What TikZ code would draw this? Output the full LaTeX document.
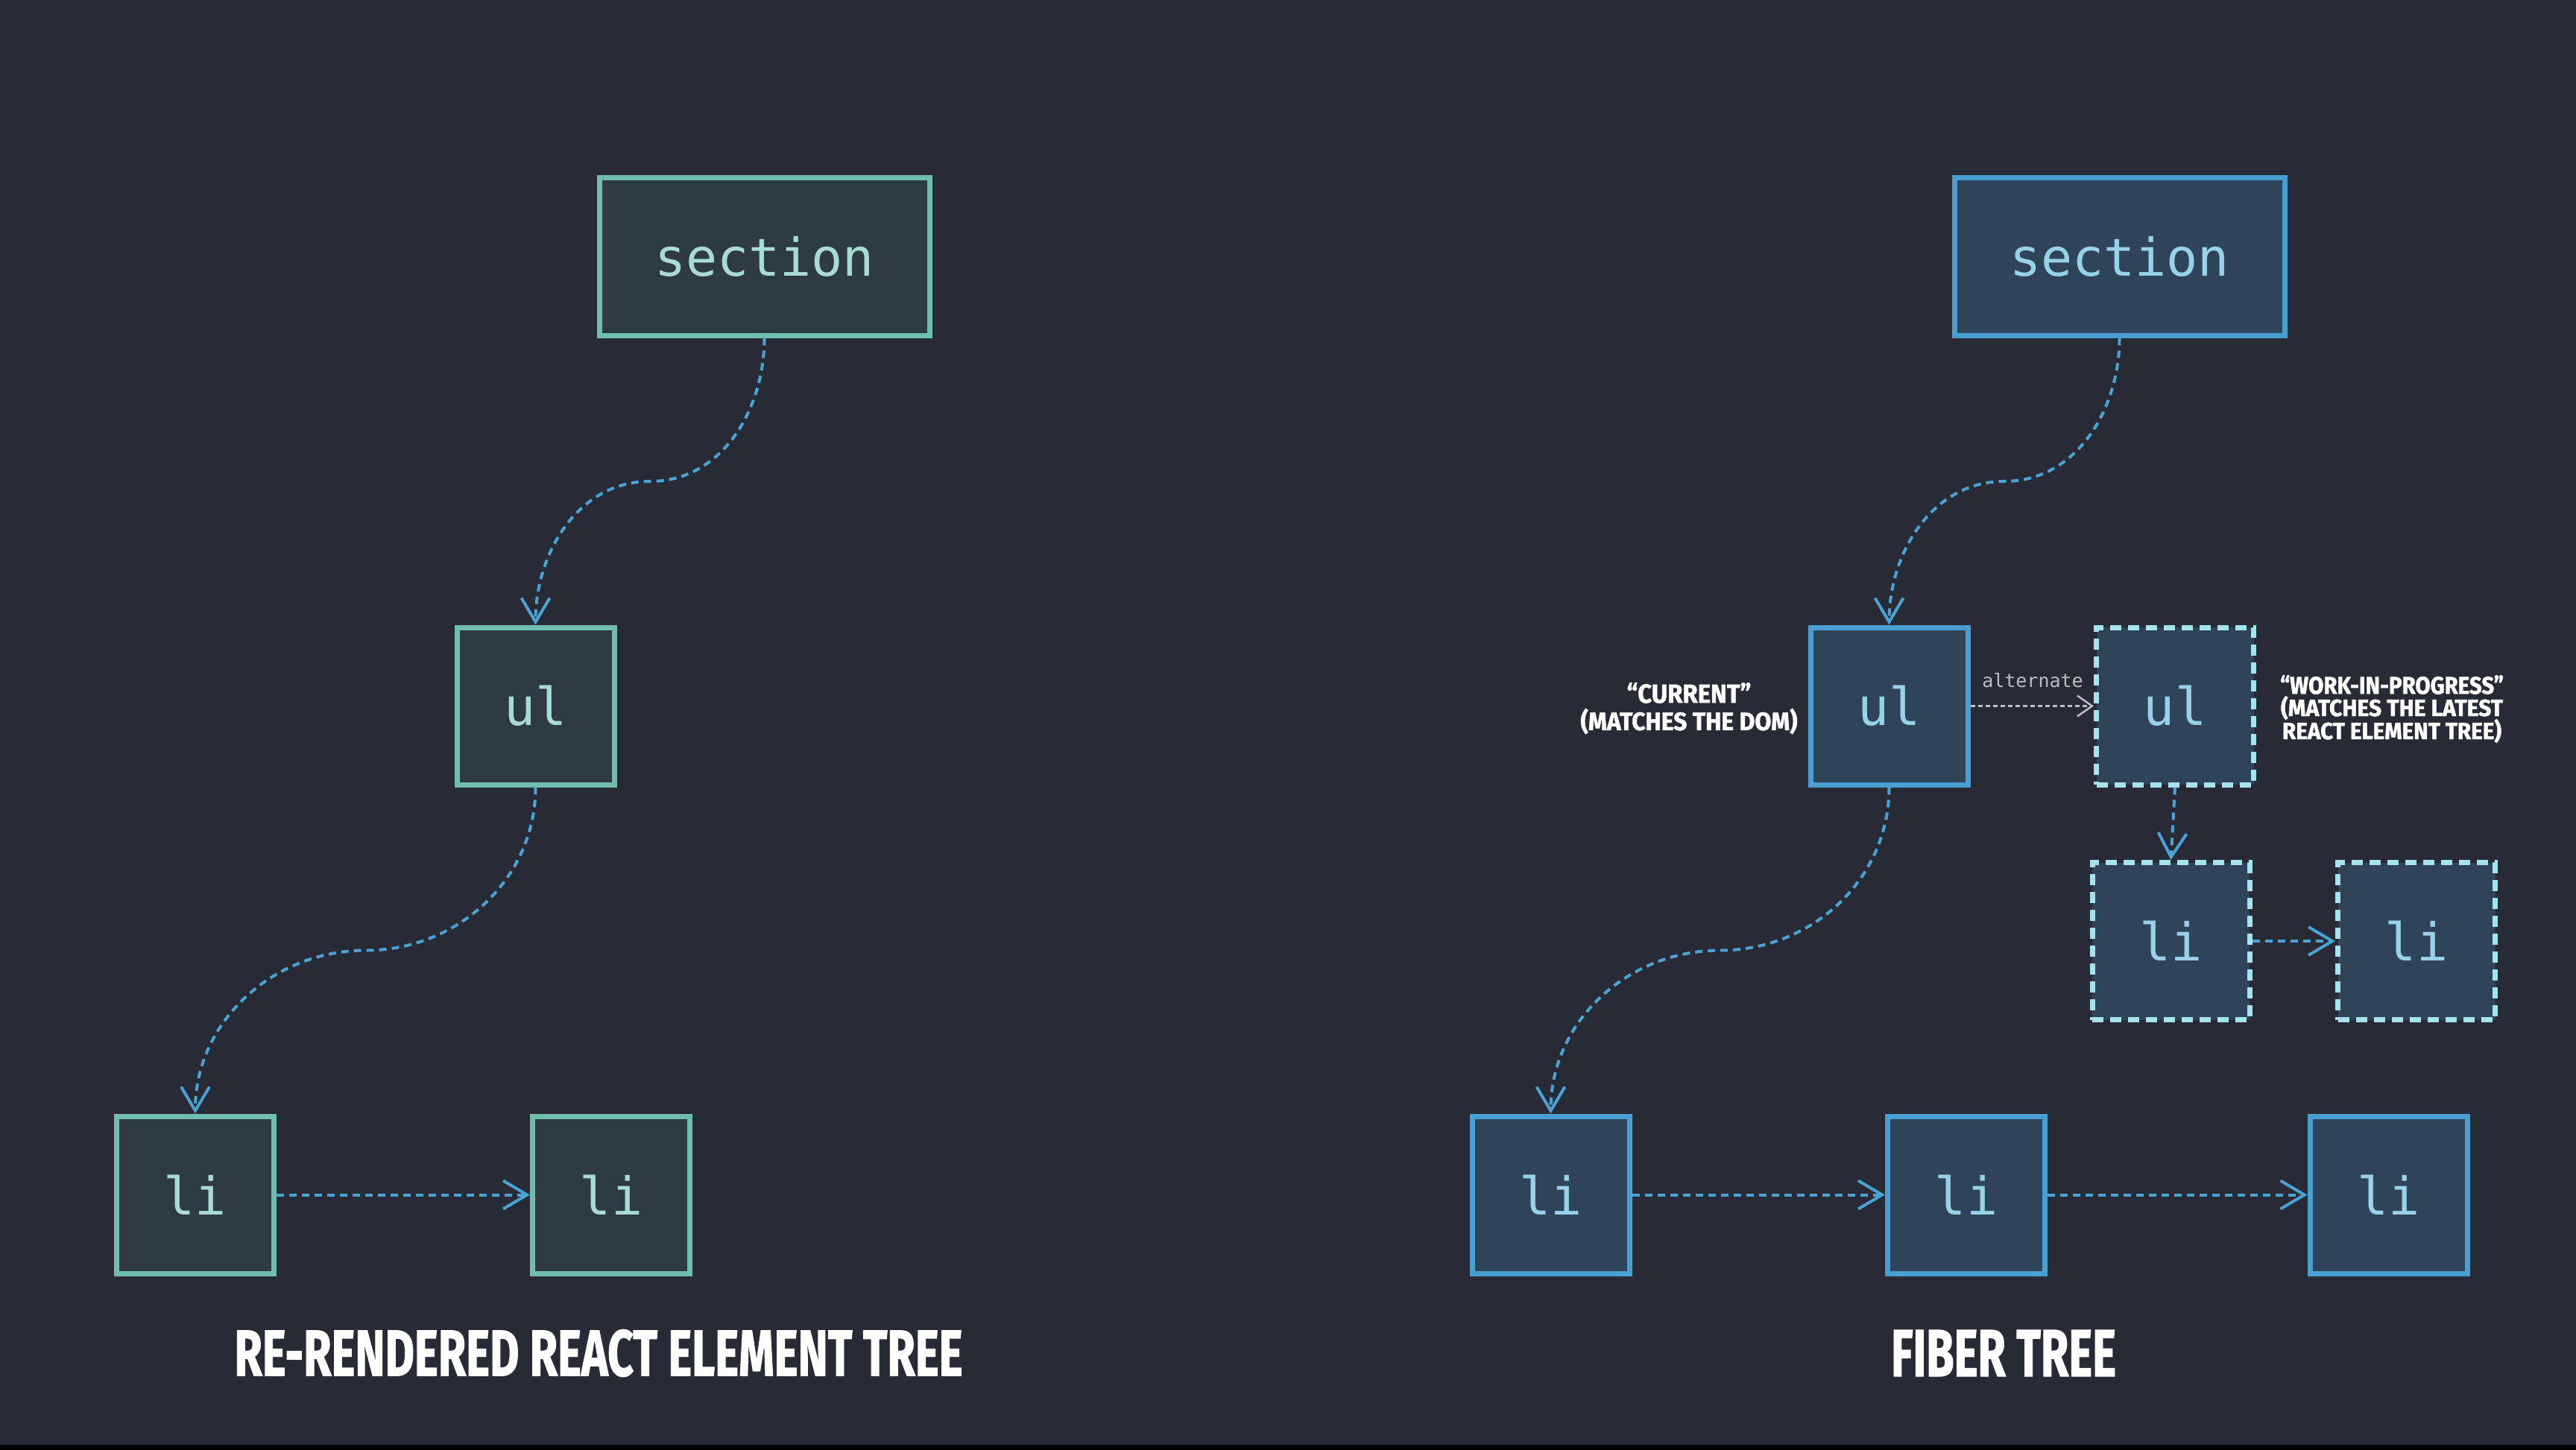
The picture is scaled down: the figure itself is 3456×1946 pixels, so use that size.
\documentclass[tikz,border=0pt]{standalone}
\usepackage{fontspec}
\usepackage{graphicx}
\usetikzlibrary{arrows.meta,calc}
\setmonofont{DejaVu Sans Mono}
\newfontfamily\heavyfont[BoldFeatures={FakeBold=1.5}]{Fira Sans}
\definecolor{bgc}{HTML}{282A35}
\definecolor{lfill}{HTML}{2D3A41}
\definecolor{lborder}{HTML}{6EBDAE}
\definecolor{ltext}{HTML}{A8DCD2}
\definecolor{rfill}{HTML}{2F4459}
\definecolor{rborder}{HTML}{4A9FD2}
\definecolor{rtext}{HTML}{98D2E6}
\definecolor{wborder}{HTML}{A3E4EE}
\definecolor{connc}{HTML}{4AA3D5}
\definecolor{altc}{HTML}{B8BEC6}
\begin{document}
\begin{tikzpicture}[x={(0.2pt,0)},y={(0,-0.2pt)},
  box/.style={draw, line width=1.4pt, inner sep=0pt, minimum width=42.2pt, minimum height=42.2pt,
    font=\ttfamily\fontsize{14}{16}\selectfont},
  lbox/.style={box, fill=lfill, draw=lborder, text=ltext},
  rbox/.style={box, fill=rfill, draw=rborder, text=rtext},
  wbox/.style={rbox, draw=wborder, dash pattern=on 3pt off 1.8pt},
  wide/.style={minimum width=88.6pt, minimum height=42.4pt},
  conn/.style={draw=connc, line width=0.8pt, dash pattern=on 2pt off 1.4pt,
    -{Straight Barb[length=6.4pt,width=7.6pt]}},
  altconn/.style={draw=altc, line width=0.5pt, dash pattern=on 1.2pt off 0.8pt,
    -{Straight Barb[length=4pt,width=5.6pt]}},
  ttl/.style={text=white, inner sep=0pt, font=\heavyfont\bfseries},
  lbl/.style={text=white, inner sep=0pt, font=\heavyfont\bfseries},
]
\fill[bgc] (0,0) rectangle (3456,1946);
\fill[black] (0,1939) rectangle (3456,1946);
\useasboundingbox (0,0) rectangle (3456,1946);

% left tree
\node[lbox,wide] (ls) at (1025.5,344) {section};
\node[lbox] (lu) at (718.5,947.5) {ul};
\node[lbox] (ll1) at (262,1603.5) {li};
\node[lbox] (ll2) at (820,1603.5) {li};

\draw[conn] (ls.south) to[out=-90,in=0] ($(ls.south)!.5!(lu.north)$) to[out=180,in=90] (lu.north);
\draw[conn] (lu.south) to[out=-90,in=0] ($(lu.south)!.5!(ll1.north)$) to[out=180,in=90] (ll1.north);
\draw[conn] (ll1.east) -- (ll2.west);

% right tree
\node[rbox,wide] (rs) at (2843.5,344) {section};
\node[rbox] (ru) at (2534.5,947.5) {ul};
\node[wbox] (wu) at (2918,947.5) {ul};
\node[wbox] (wl1) at (2912.5,1263) {li};
\node[wbox] (wl2) at (3242,1263) {li};
\node[rbox] (rl1) at (2080.5,1603.5) {li};
\node[rbox] (rl2) at (2638,1603.5) {li};
\node[rbox] (rl3) at (3204.5,1603.5) {li};

\draw[conn] (rs.south) to[out=-90,in=0] ($(rs.south)!.5!(ru.north)$) to[out=180,in=90] (ru.north);
\draw[conn] (ru.south) to[out=-90,in=0] ($(ru.south)!.5!(rl1.north)$) to[out=180,in=90] (rl1.north);
\draw[conn] (rl1.east) -- (rl2.west);
\draw[conn] (rl2.east) -- (rl3.west);
\draw[conn] (wu.south) -- (wl1.north);
\draw[conn] (wl1.east) -- (wl2.west);
\draw[altconn] (ru.east) -- (wu.west);
\node[text=altc, inner sep=0pt, font=\ttfamily\fontsize{5}{6}\selectfont] (alt) at (2727,913) {alternate};

% labels
\node[lbl] (cur1) at (2266,930) {\resizebox{33.4pt}{5.4pt}{“CURRENT”}};
\node[lbl] (cur2) at (2266,968) {\resizebox{58.2pt}{5.8pt}{(MATCHES THE DOM)}};
\node[lbl] (wip1) at (3209,919) {\resizebox{60pt}{5pt}{“WORK-IN-PROGRESS”}};
\node[lbl] (wip2) at (3209,950) {\resizebox{59.6pt}{5.4pt}{(MATCHES THE LATEST}};
\node[lbl] (wip3) at (3209,981) {\resizebox{58.8pt}{5.4pt}{REACT ELEMENT TREE)}};

% titles
\node[ttl] (lt) at (803,1816) {\resizebox{195.4pt}{12.4pt}{RE-RENDERED REACT ELEMENT TREE}};
\node[ttl] (rt) at (2688,1816) {\resizebox{60.4pt}{12.4pt}{FIBER TREE}};
\end{tikzpicture}
\end{document}
